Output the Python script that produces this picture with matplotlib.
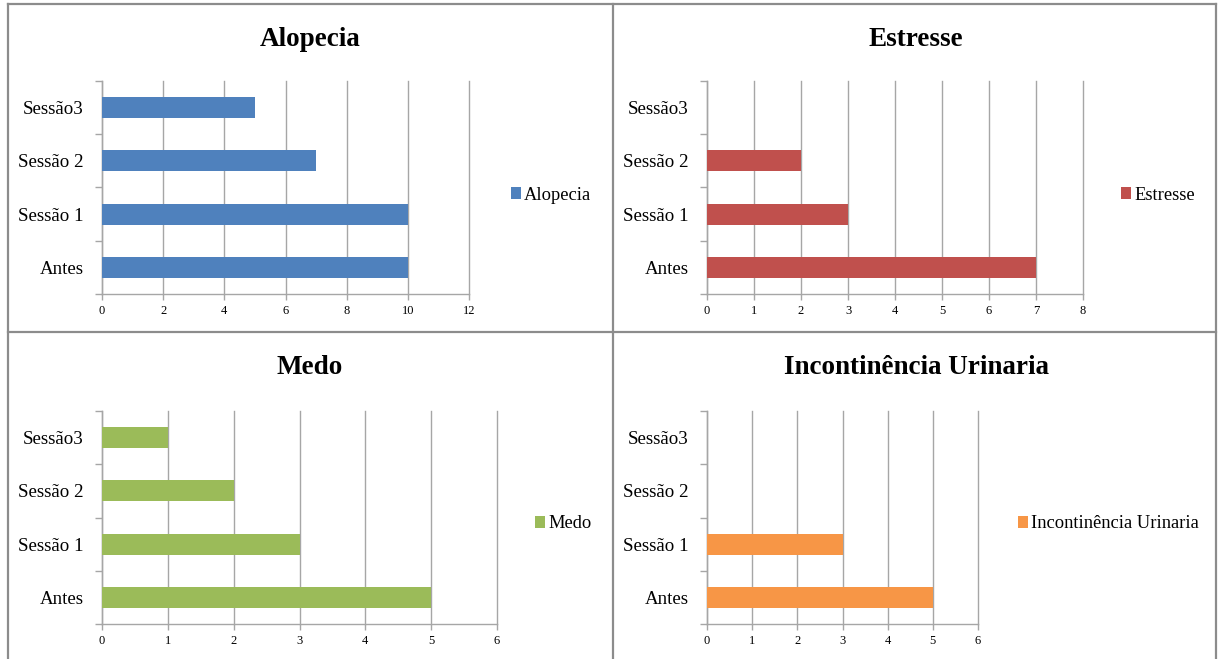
import matplotlib
matplotlib.use("Agg")
import matplotlib.pyplot as plt
from matplotlib.lines import Line2D

plt.rcParams['font.family'] = ['Liberation Serif', 'DejaVu Serif']

categories = ["Antes", "Sessão 1", "Sessão 2", "Sessão3"]
alopecia = [10, 10, 7, 5]
estresse = [7, 3, 2, 0]
medo = [5, 3, 2, 1]
incontinencia = [5, 3, 0, 0]

titles = ["Alopecia", "Estresse", "Medo", "Incontinência Urinaria"]
series = [alopecia, estresse, medo, incontinencia]
colors = ["#4F81BD", "#C0504D", "#9BBB59", "#F79646"]
xmaxes = [12, 8, 6, 6]
xsteps = [2, 1, 1, 1]

W, H = 1219, 659
fig = plt.figure(figsize=(W / 100, H / 100), dpi=100)
fig.patch.set_facecolor("white")

# panel geometry in pixels: (x0, x1, ytop, ybottom, title_x, title_y, legend_x, legend_y)
geo = [
    (102, 469, 81, 294, 310, 39, 511, 195),
    (707, 1083, 81, 294, 916, 39, 1121, 195),
    (102, 497, 411, 624, 310, 367, 535, 524),
    (707, 978, 411, 624, 916, 367, 1018, 524),
]

grid_c = "#A6A6A6"
for i in range(4):
    x0, x1, yt, yb, tx, ty, lx, ly = geo[i]
    ax = fig.add_axes([x0 / W, 1 - yb / H, (x1 - x0) / W, (yb - yt) / H])
    ypos = list(range(len(categories)))
    ax.barh(ypos, series[i], height=0.39, color=colors[i], label=titles[i], zorder=3)
    ax.set_xlim(0, xmaxes[i])
    ax.set_ylim(-0.5, len(categories) - 0.5)
    ax.set_xticks(range(0, xmaxes[i] + 1, xsteps[i]))
    ax.set_yticks(ypos)
    ax.set_yticklabels(categories, fontsize=13.6)
    ax.set_yticks([k - 0.5 for k in range(len(categories) + 1)], minor=True)
    ax.tick_params(axis='y', which='major', length=0, pad=13)
    ax.tick_params(axis='y', which='minor', length=5, color=grid_c, width=1)
    ax.tick_params(axis='x', length=4, color=grid_c, width=1, labelsize=9, pad=4)
    ax.grid(axis='x', color=grid_c, linewidth=1, zorder=0)
    for gl in ax.get_xgridlines():
        gl.set_clip_on(False)
    for s in ["top", "right"]:
        ax.spines[s].set_visible(False)
    for s in ["left", "bottom"]:
        ax.spines[s].set_color(grid_c)
        ax.spines[s].set_linewidth(1)
    ax.set_facecolor("none")
    fig.text(tx / W, 1 - ty / H, titles[i], ha="center", va="center",
             fontsize=19.5, fontweight="bold")
    ax.legend(loc="center left", bbox_to_anchor=(lx / W, 1 - ly / H),
              bbox_transform=fig.transFigure, frameon=False, fontsize=13.3,
              handlelength=0.55, handleheight=0.55, handletextpad=0.15,
              borderpad=0, borderaxespad=0)

# panel borders
bc = "#8C8C8C"
lines = [
    ((8, 8), (4, 659)),
    ((8, 1216), (4, 4)),
    ((1216, 1216), (4, 659)),
    ((613, 613), (4, 659)),
    ((8, 1216), (332, 332)),
]
for xs, ys in lines:
    fig.add_artist(Line2D([x / W for x in xs], [1 - y / H for y in ys],
                          color=bc, linewidth=1.6, transform=fig.transFigure))

fig.savefig("out.png", dpi=100)
